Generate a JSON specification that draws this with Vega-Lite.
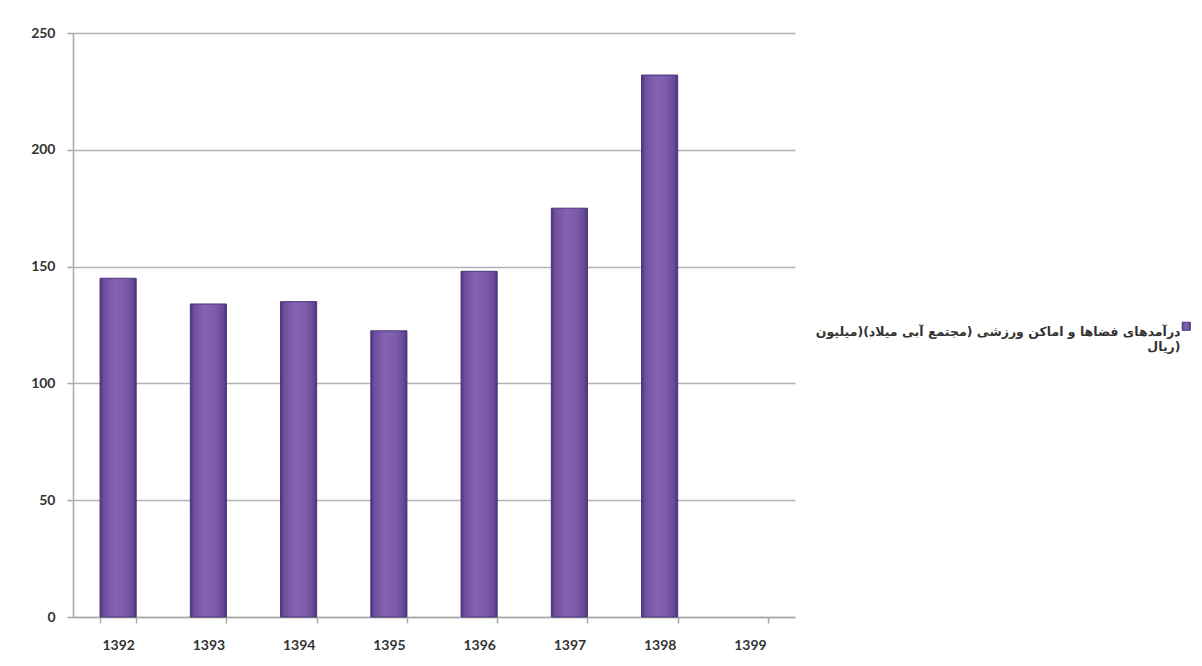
{
  "$schema": "https://vega.github.io/schema/vega-lite/v6.json",
  "autosize": "none",
  "width": 722,
  "height": 584,
  "padding": {"left": 73, "top": 33, "right": 407, "bottom": 49},
  "background": "white",
  "config": {"view": {"stroke": null}},
  "data": {
    "values": [
      {"year": "1392", "value": 145, "series": "درآمدهای فضاها و اماکن ورزشی (مجتمع آبی میلاد)(میلیون ریال)"},
      {"year": "1393", "value": 134, "series": "درآمدهای فضاها و اماکن ورزشی (مجتمع آبی میلاد)(میلیون ریال)"},
      {"year": "1394", "value": 135, "series": "درآمدهای فضاها و اماکن ورزشی (مجتمع آبی میلاد)(میلیون ریال)"},
      {"year": "1395", "value": 122.5, "series": "درآمدهای فضاها و اماکن ورزشی (مجتمع آبی میلاد)(میلیون ریال)"},
      {"year": "1396", "value": 148, "series": "درآمدهای فضاها و اماکن ورزشی (مجتمع آبی میلاد)(میلیون ریال)"},
      {"year": "1397", "value": 175, "series": "درآمدهای فضاها و اماکن ورزشی (مجتمع آبی میلاد)(میلیون ریال)"},
      {"year": "1398", "value": 232, "series": "درآمدهای فضاها و اماکن ورزشی (مجتمع آبی میلاد)(میلیون ریال)"},
      {"year": "1399", "value": null, "series": "درآمدهای فضاها و اماکن ورزشی (مجتمع آبی میلاد)(میلیون ریال)"}
    ]
  },
  "mark": {
    "type": "bar",
    "strokeWidth": 1,
    "fill": {
      "gradient": "linear",
      "x1": 0, "x2": 1, "y1": 0, "y2": 0,
      "stops": [
        {"offset": 0, "color": "#4a3578"},
        {"offset": 0.1, "color": "#6f4e9e"},
        {"offset": 0.4, "color": "#8464b2"},
        {"offset": 0.7, "color": "#7c5bab"},
        {"offset": 0.9, "color": "#6a4a98"},
        {"offset": 1, "color": "#4a3578"}
      ]
    }
  },
  "encoding": {
    "x": {
      "field": "year",
      "type": "nominal",
      "sort": null,
      "scale": {"domain": ["1392", "1393", "1394", "1395", "1396", "1397", "1398", "1399"], "paddingInner": 0.6, "paddingOuter": 0.3},
      "axis": {
        "title": null,
        "labelAngle": 0,
        "tickBand": "extent",
        "tickSize": 6,
        "tickColor": "#a8a8a8",
        "tickWidth": 1.5,
        "domainColor": "#a8a8a8",
        "domainWidth": 1.5,
        "labelPadding": 15,
        "labelFont": "Lato",
        "labelFontWeight": "bold",
        "labelFontSize": 14,
        "labelColor": "#333333",
        "grid": false
      }
    },
    "y": {
      "field": "value",
      "type": "quantitative",
      "scale": {"domain": [0, 250], "nice": false},
      "axis": {
        "title": null,
        "values": [0, 50, 100, 150, 200, 250],
        "grid": true,
        "gridColor": "#b3b3b3",
        "gridWidth": 1.5,
        "tickSize": 6,
        "tickColor": "#a8a8a8",
        "tickWidth": 1.5,
        "domainColor": "#a8a8a8",
        "domainWidth": 1.5,
        "labelPadding": 12,
        "labelFont": "Lato",
        "labelFontWeight": "bold",
        "labelFontSize": 14,
        "labelColor": "#333333"
      }
    },
    "stroke": {
      "field": "series",
      "type": "nominal",
      "scale": {"range": ["#4a3578"]},
      "legend": {
        "title": null,
        "orient": "none",
        "legendX": 1107,
        "legendY": 287,
        "padding": 0,
        "symbolType": "square",
        "symbolSize": 64,
        "symbolFillColor": "#5e4290",
        "symbolStrokeColor": "#3e2d68",
        "symbolStrokeWidth": 1,
        "labelAlign": "right",
        "labelOffset": -12,
        "labelBaseline": "top",
        "labelFont": "DejaVu Sans",
        "labelFontWeight": "bold",
        "labelFontSize": 12.5,
        "labelColor": "#333333",
        "labelLimit": 0,
        "labelExpr": "['درآمدهای فضاها و اماکن ورزشی (مجتمع آبی میلاد)(میلیون', 'ریال)']",
        "encode": {"labels": {"update": {"lineHeight": {"value": 24}, "dy": {"value": -9}}}}
      }
    }
  }
}
